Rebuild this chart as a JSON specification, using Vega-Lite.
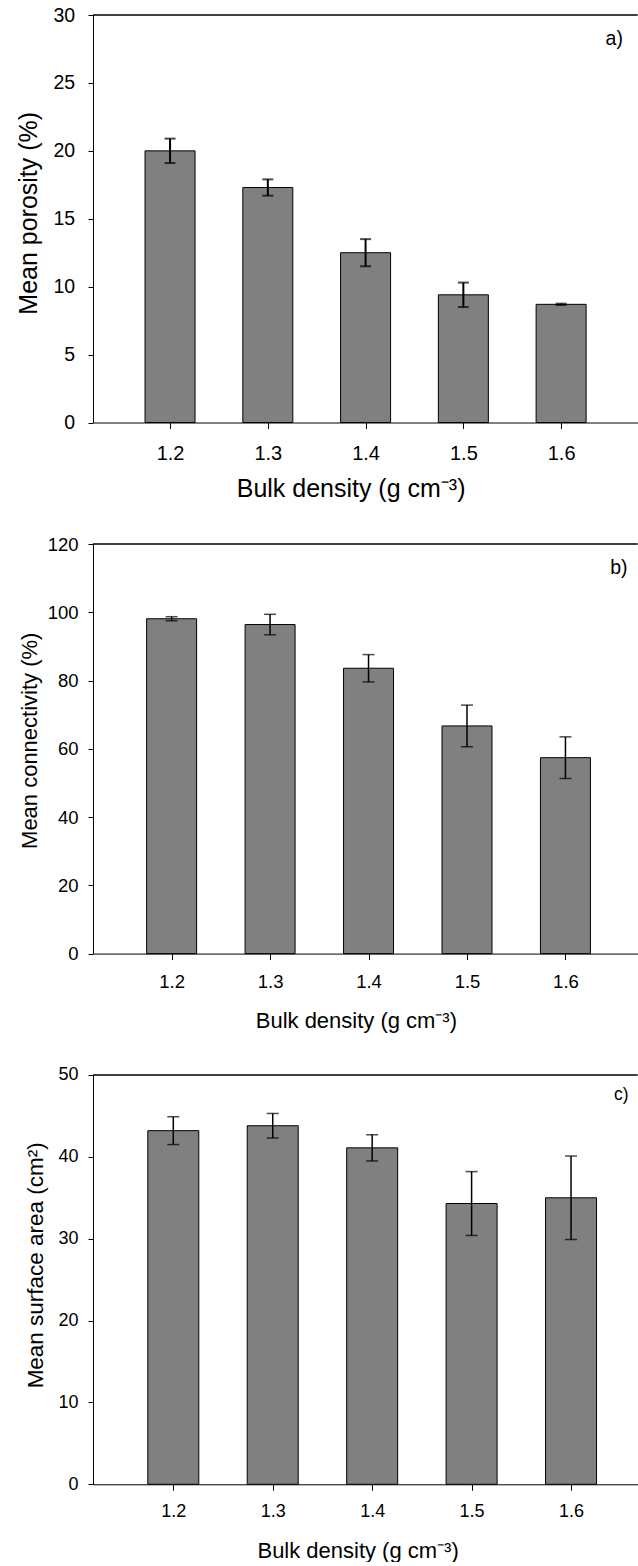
{
  "$schema": "https://vega.github.io/schema/vega-lite/v6.json",
  "background": "white",
  "padding": {"left": 16, "top": 5, "right": 1, "bottom": 0},
  "datasets": {
    "porosity": [
      {"bd": 1.2, "mean": 20.0, "err": 0.9},
      {"bd": 1.3, "mean": 17.3, "err": 0.6},
      {"bd": 1.4, "mean": 12.5, "err": 1.0},
      {"bd": 1.5, "mean": 9.4, "err": 0.9},
      {"bd": 1.6, "mean": 8.7, "err": 0.05}
    ],
    "connectivity": [
      {"bd": 1.2, "mean": 98.1, "err": 0.6},
      {"bd": 1.3, "mean": 96.4, "err": 3.0},
      {"bd": 1.4, "mean": 83.6, "err": 4.0},
      {"bd": 1.5, "mean": 66.7, "err": 6.1},
      {"bd": 1.6, "mean": 57.4, "err": 6.1}
    ],
    "surface": [
      {"bd": 1.2, "mean": 43.2, "err": 1.7},
      {"bd": 1.3, "mean": 43.8, "err": 1.5},
      {"bd": 1.4, "mean": 41.1, "err": 1.6},
      {"bd": 1.5, "mean": 34.3, "err": 3.9},
      {"bd": 1.6, "mean": 35.0, "err": 5.1}
    ],
    "one": [{"k": 1}]
  },
  "spacing": 121,
  "bounds": "flush",
  "vconcat": [
    {
      "width": 544.7,
      "height": 407.5,
      "layer": [
        {"data": {"name": "porosity"},
          "mark": {"type": "bar", "size": 50, "fill": "#808080", "stroke": "black", "strokeWidth": 1},
          "encoding": {
            "x": {"field": "bd", "type": "quantitative",
              "scale": {"domain": [1.12631, 1.6732], "nice": false, "zero": false},
              "axis": {"values": [1.2, 1.3, 1.4, 1.5, 1.6], "format": ".1f", "title": "Bulk density (g cm⁻³)",
                "labelFontSize": 20, "labelPadding": 14.8, "tickSize": 6, "titleFontSize": 25, "titleX": 257.6, "titleY": 54.25}},
            "y": {"field": "mean", "type": "quantitative", "title": "Mean porosity (%)",
              "scale": {"domain": [0, 30], "nice": false},
              "axis": {"values": [0, 5, 10, 15, 20, 25, 30],
                "labelFontSize": 19.5, "labelPadding": 13.3, "tickSize": 5, "titleFontSize": 25, "titleX": -51.6, "titleY": 197.8}}}},
        {"data": {"name": "porosity"},
          "mark": {"type": "errorbar", "color": "black", "rule": {"strokeWidth": 2}, "ticks": {"size": 11, "thickness": 2}},
          "encoding": {
            "x": {"field": "bd", "type": "quantitative"},
            "y": {"field": "mean", "type": "quantitative", "title": "Mean porosity (%)"},
            "yError": {"field": "err"}}},
        {"data": {"name": "one"},
          "mark": {"type": "rule", "color": "black", "strokeWidth": 1.5}, "encoding": {"y": {"datum": 30}}},
        {"data": {"name": "one"},
          "mark": {"type": "text", "align": "right", "baseline": "alphabetic", "fontSize": 19.5, "font": "Liberation Sans", "color": "black"},
          "encoding": {"x": {"datum": 1.6632}, "y": {"datum": 27.8}, "text": {"value": "a)"}}}
      ]
    },
    {
      "width": 544.7,
      "height": 409.6,
      "layer": [
        {"data": {"name": "connectivity"},
          "mark": {"type": "bar", "size": 50, "fill": "#808080", "stroke": "black", "strokeWidth": 1},
          "encoding": {
            "x": {"field": "bd", "type": "quantitative",
              "scale": {"domain": [1.12522, 1.66829], "nice": false, "zero": false},
              "axis": {"values": [1.2, 1.3, 1.4, 1.5, 1.6], "format": ".1f", "title": "Bulk density (g cm⁻³)",
                "labelFontSize": 18.5, "labelPadding": 13.3, "tickSize": 6, "titleFontSize": 22, "titleX": 262.9, "titleY": 57.3}},
            "y": {"field": "mean", "type": "quantitative", "title": "Mean connectivity (%)",
              "scale": {"domain": [0, 120], "nice": false},
              "axis": {"values": [0, 20, 40, 60, 80, 100, 120],
                "labelFontSize": 18.5, "labelPadding": 10, "tickSize": 5, "titleFontSize": 22, "titleX": -51.6, "titleY": 196.3}}}},
        {"data": {"name": "connectivity"},
          "mark": {"type": "errorbar", "color": "black", "rule": {"strokeWidth": 1.5}, "ticks": {"size": 12, "thickness": 1.5}},
          "encoding": {
            "x": {"field": "bd", "type": "quantitative"},
            "y": {"field": "mean", "type": "quantitative", "title": "Mean connectivity (%)"},
            "yError": {"field": "err"}}},
        {"data": {"name": "one"},
          "mark": {"type": "rule", "color": "black", "strokeWidth": 1.5}, "encoding": {"y": {"datum": 120}}},
        {"data": {"name": "one"},
          "mark": {"type": "text", "align": "right", "baseline": "alphabetic", "fontSize": 19.5, "font": "Liberation Sans", "color": "black"},
          "encoding": {"x": {"datum": 1.663}, "y": {"datum": 111.07}, "text": {"value": "b)"}}}
      ]
    },
    {
      "width": 544.7,
      "height": 409.3,
      "layer": [
        {"data": {"name": "surface"},
          "mark": {"type": "bar", "size": 51, "fill": "#808080", "stroke": "black", "strokeWidth": 1},
          "encoding": {
            "x": {"field": "bd", "type": "quantitative",
              "scale": {"domain": [1.12428, 1.66199], "nice": false, "zero": false},
              "axis": {"values": [1.2, 1.3, 1.4, 1.5, 1.6], "format": ".1f", "title": "Bulk density (g cm⁻³)",
                "labelFontSize": 18, "labelPadding": 12.4, "tickSize": 6, "titleFontSize": 22, "titleX": 264.6, "titleY": 56}},
            "y": {"field": "mean", "type": "quantitative", "title": "Mean surface area (cm²)",
              "scale": {"domain": [0, 50], "nice": false},
              "axis": {"values": [0, 10, 20, 30, 40, 50],
                "labelFontSize": 18, "labelPadding": 10, "tickSize": 5, "titleFontSize": 22.5, "titleX": -45.5, "titleY": 189.8}}}},
        {"data": {"name": "surface"},
          "mark": {"type": "errorbar", "color": "black", "rule": {"strokeWidth": 1.5}, "ticks": {"size": 12, "thickness": 1.5}},
          "encoding": {
            "x": {"field": "bd", "type": "quantitative"},
            "y": {"field": "mean", "type": "quantitative", "title": "Mean surface area (cm²)"},
            "yError": {"field": "err"}}},
        {"data": {"name": "one"},
          "mark": {"type": "rule", "color": "black", "strokeWidth": 1.5}, "encoding": {"y": {"datum": 50}}},
        {"data": {"name": "one"},
          "mark": {"type": "text", "align": "right", "baseline": "alphabetic", "fontSize": 17.5, "font": "Liberation Sans", "color": "black"},
          "encoding": {"x": {"datum": 1.65775}, "y": {"datum": 46.9}, "text": {"value": "c)"}}}
      ]
    }
  ],
  "config": {
    "view": {"stroke": null},
    "font": "Liberation Sans",
    "axis": {
      "grid": false,
      "domainColor": "black",
      "domainWidth": 1,
      "tickColor": "black",
      "tickWidth": 1,
      "labelColor": "black",
      "titleColor": "black",
      "labelFont": "Liberation Sans",
      "titleFont": "Liberation Sans",
      "titleFontWeight": "normal"
    }
  }
}
